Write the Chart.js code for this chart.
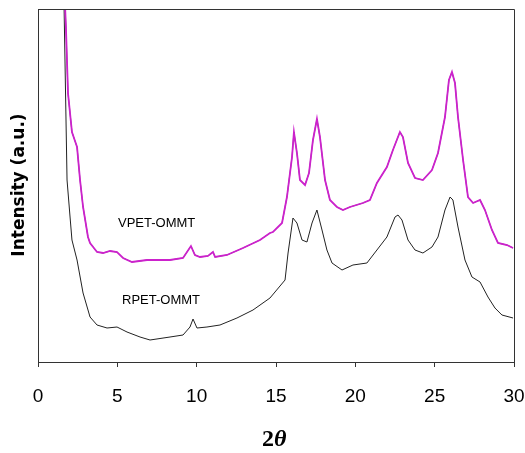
<!DOCTYPE html>
<html>
<head>
<meta charset="utf-8">
<script src="https://cdn.jsdelivr.net/npm/chart.js@4"></script>
<style>
  body { margin: 0; background: #fff; }
  #wrap { width: 525px; height: 453px; }
</style>
</head>
<body>
<div id="wrap"><canvas id="xrd-chart" width="525" height="453"></canvas></div>
<script>
// 2-theta positions and intensities (arbitrary units)
var vpetTheta = [1.70, 1.76, 1.89, 2.14, 2.46, 2.65, 2.84, 3.15, 3.28, 3.72, 4.10, 4.54, 4.98, 5.36, 5.92,
  6.87, 8.32, 9.14, 9.64, 9.89, 10.21, 10.71, 11.03, 11.16, 11.91, 12.92, 13.99, 14.62, 14.81, 15.38,
  15.69, 16.01, 16.13, 16.32, 16.51, 16.83, 17.08, 17.33, 17.58, 17.77, 18.09, 18.40, 18.84, 19.22,
  19.66, 20.48, 20.92, 21.36, 21.99, 22.37, 22.81, 23.00, 23.32, 23.76, 24.26, 24.83, 25.21, 25.65,
  25.90, 26.09, 26.28, 26.47, 26.79, 27.10, 27.42, 27.86, 28.17, 28.61, 28.99, 29.56, 29.94];
var vpetIntensity = [358, 335, 269, 230, 215, 182, 155, 125, 119, 110, 109, 111, 110, 104, 100,
  102, 102, 104, 116, 107, 105, 106, 110, 105, 107, 114, 122, 129, 130, 139,
  165, 205, 230, 209, 182, 177, 189, 222, 243, 225, 182, 162, 155, 152,
  155, 159, 162, 179, 195, 212, 230, 225, 199, 184, 182, 192, 209, 245,
  282, 290, 279, 245, 202, 165, 159, 162, 152, 132, 119, 117, 114];

var rpetTheta = [1.64, 1.83, 2.02, 2.14, 2.46, 2.84, 3.28, 3.72, 4.35, 4.98, 5.61, 6.43, 7.06, 8.32,
  9.14, 9.58, 9.77, 10.02, 10.65, 11.47, 12.54, 13.55, 14.62, 15.57, 15.76, 16.07, 16.32, 16.64,
  16.95, 17.27, 17.58, 17.90, 18.21, 18.53, 19.16, 19.85, 20.73, 21.36, 21.99, 22.50, 22.69, 22.94,
  23.32, 23.76, 24.26, 24.83, 25.21, 25.65, 25.97, 26.15, 26.47, 26.91, 27.35, 27.86, 28.36, 28.80,
  29.24, 29.94];
var rpetIntensity = [358, 182, 145, 122, 102, 69, 45, 37, 34, 35, 30, 25, 22, 25,
  27, 35, 43, 34, 35, 37, 44, 52, 64, 82, 109, 144, 139, 122,
  120, 139, 152, 132, 112, 99, 92, 97, 99, 112, 125, 145, 147, 142,
  122, 112, 109, 115, 125, 152, 165, 162, 135, 102, 85, 80, 65, 54,
  47, 44];

var xTicks = [0, 5, 10, 15, 20, 25, 30];

var toPoints = function (xs, ys) {
  return xs.map(function (x, i) { return { x: x, y: ys[i] }; });
};

// box, axis titles and series labels
var decorPlugin = {
  id: "decor",
  afterDraw: function (chart) {
    var ctx = chart.ctx;
    var area = chart.chartArea;
    ctx.save();
    ctx.strokeStyle = "#333";
    ctx.lineWidth = 1;
    ctx.beginPath();
    ctx.moveTo(area.left, area.top + 0.5);
    ctx.lineTo(area.right + 0.5, area.top + 0.5);
    ctx.lineTo(area.right + 0.5, area.bottom);
    ctx.stroke();

    ctx.fillStyle = "#000";
    // y axis title
    ctx.save();
    ctx.translate(20, 185);
    ctx.rotate(-Math.PI / 2);
    ctx.font = "bold 17px 'DejaVu Sans', Verdana, sans-serif";
    ctx.textAlign = "center";
    ctx.textBaseline = "middle";
    ctx.fillText("Intensity (a.u.)", 0, 0);
    ctx.restore();

    // x axis title: 2θ
    ctx.textBaseline = "alphabetic";
    ctx.textAlign = "left";
    ctx.font = "bold 24px 'Liberation Serif', 'Times New Roman', serif";
    var w2 = ctx.measureText("2").width;
    ctx.fillText("2", 262, 446);
    ctx.font = "italic bold 24px 'Liberation Serif', 'Times New Roman', serif";
    ctx.fillText("θ", 262 + w2, 446);

    // series labels
    ctx.font = "13px 'Liberation Sans', Arial, sans-serif";
    ctx.textBaseline = "middle";
    ctx.fillText("VPET-OMMT", 118, 223);
    ctx.fillText("RPET-OMMT", 122, 300);
    ctx.restore();
  },
};

var ctx = document.getElementById("xrd-chart").getContext("2d");

new Chart(ctx, {
  type: "scatter",
  data: {
    datasets: [
      {
        label: "VPET-OMMT",
        data: toPoints(vpetTheta, vpetIntensity),
        showLine: true,
        borderColor: "#cc22cc",
        borderWidth: 1.8,
        pointRadius: 0,
        tension: 0,
      },
      {
        label: "VPET-OMMT core",
        data: toPoints(vpetTheta, vpetIntensity),
        showLine: true,
        borderColor: "#301030",
        borderWidth: 0.7,
        pointRadius: 0,
        tension: 0,
      },
      {
        label: "RPET-OMMT",
        data: toPoints(rpetTheta, rpetIntensity),
        showLine: true,
        borderColor: "#222",
        borderWidth: 1,
        pointRadius: 0,
        tension: 0,
      },
    ],
  },
  options: {
    responsive: false,
    animation: false,
    layout: { padding: { left: 0, top: 9, right: 0, bottom: 0 } },
    plugins: {
      legend: { display: false },
      tooltip: { enabled: false },
    },
    scales: {
      x: {
        type: "linear",
        min: 0,
        max: 30,
        afterFit: function (scale) {
          scale.height = 91;
          scale.paddingLeft = 0;
          scale.paddingRight = 11;
        },
        afterBuildTicks: function (scale) {
          scale.ticks = xTicks.map(function (v) { return { value: v }; });
        },
        grid: {
          display: true,
          drawOnChartArea: false,
          drawTicks: true,
          tickLength: 5,
          color: "#333",
        },
        border: { display: true, color: "#333", width: 1 },
        ticks: {
          color: "#000",
          padding: 18,
          maxRotation: 0,
          font: { family: "'Liberation Sans', Arial, sans-serif", size: 19 },
        },
      },
      y: {
        type: "linear",
        min: 0,
        max: 353,
        afterFit: function (scale) { scale.width = 38; },
        grid: { display: false },
        border: { display: true, color: "#333", width: 1 },
        ticks: { display: false },
      },
    },
  },
  plugins: [decorPlugin],
});
</script>
</body>
</html>
